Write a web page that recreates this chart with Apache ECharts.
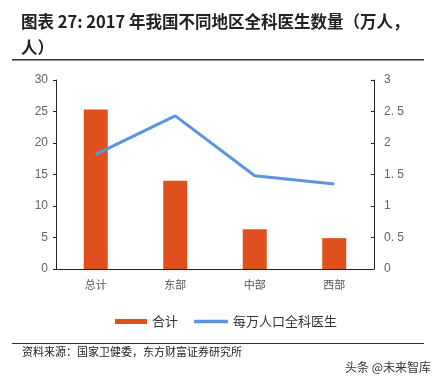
<!DOCTYPE html>
<html><head><meta charset="utf-8">
<script src="https://cdn.jsdelivr.net/npm/echarts@6/dist/echarts.min.js"></script>
<style>html,body{margin:0;padding:0;background:#fff}#c{width:434px;height:380px}</style>
</head><body><div id="c"></div>
<script>
const categories = ['总计', '东部', '中部', '西部'];
const totalValues = [25.3, 14.0, 6.3, 4.9];
const perTenThousand = [1.82, 2.43, 1.48, 1.35];
const leftTicks = [0, 30, 5];
const rightTicks = [0, 3, 0.5];

const chart = echarts.init(document.getElementById('c'));
const cjk = '"Noto Sans CJK SC", sans-serif';
chart.setOption({
  animation: false,
  backgroundColor: '#fff',
  graphic: [
    {type: 'text', left: 21, top: 9, style: {text: '图表 27: 2017 年我国不同地区全科医生数量（万人，\n人）', font: 'bold 16.5px "Noto Sans CJK SC"', fill: '#222', lineHeight: 26}},
    {type: 'rect', shape: {x: 12, y: 59, width: 412, height: 1.5}, style: {fill: '#333'}},
    {type: 'rect', shape: {x: 12, y: 343, width: 412, height: 1}, style: {fill: '#333'}},
    {type: 'text', left: 22, top: 346, style: {text: '资料来源：国家卫健委，东方财富证券研究所', font: '11px "Noto Sans CJK SC"', fill: '#222'}},
    {type: 'text', left: 345, top: 361, style: {text: '头条 @未来智库', font: '12px "Noto Sans CJK SC"', fill: '#333'}}
  ],
  legend: [
    {top: 310, left: 110, itemGap: 0, itemWidth: 32, itemHeight: 5,
     textStyle: {fontFamily: cjk, fontSize: 13, color: '#333'},
     data: [{name: '合计', icon: 'rect'}]},
    {top: 310, left: 189, itemGap: 0, itemWidth: 34, itemHeight: 3.5,
     textStyle: {fontFamily: cjk, fontSize: 13, color: '#333'},
     data: [{name: '每万人口全科医生', icon: 'roundRect'}]}
  ],
  grid: {left: 56, right: 60, top: 80, bottom: 111},
  xAxis: {
    type: 'category', data: categories,
    axisLine: {lineStyle: {color: '#222'}},
    axisTick: {inside: true, length: 4, lineStyle: {color: '#222'}},
    axisLabel: {fontFamily: cjk, fontSize: 11, color: '#555', margin: 10}
  },
  yAxis: [
    {type: 'value', min: leftTicks[0], max: leftTicks[1], interval: leftTicks[2],
     splitLine: {show: false},
     axisLine: {show: true, lineStyle: {color: '#222'}},
     axisTick: {show: true, length: 3, lineStyle: {color: '#222'}},
     axisLabel: {fontFamily: 'Liberation Sans, Arial', fontSize: 12, color: '#666', margin: 8}},
    {type: 'value', min: rightTicks[0], max: rightTicks[1], interval: rightTicks[2],
     splitLine: {show: false},
     axisLine: {show: true, lineStyle: {color: '#222'}},
     axisTick: {show: true, inside: true, length: 3, lineStyle: {color: '#222'}},
     axisLabel: {fontFamily: 'Liberation Sans, Arial', fontSize: 12, color: '#666', margin: 10,
       formatter: v => String(v).replace('.', '. ')}}
  ],
  series: [
    {name: '合计', type: 'bar', data: totalValues, barWidth: 24, itemStyle: {color: '#E0501E'}},
    {name: '每万人口全科医生', type: 'line', yAxisIndex: 1, data: perTenThousand,
     symbol: 'none', lineStyle: {color: '#5B95DD', width: 3}, itemStyle: {color: '#5B95DD'}}
  ]
});
</script></body></html>
